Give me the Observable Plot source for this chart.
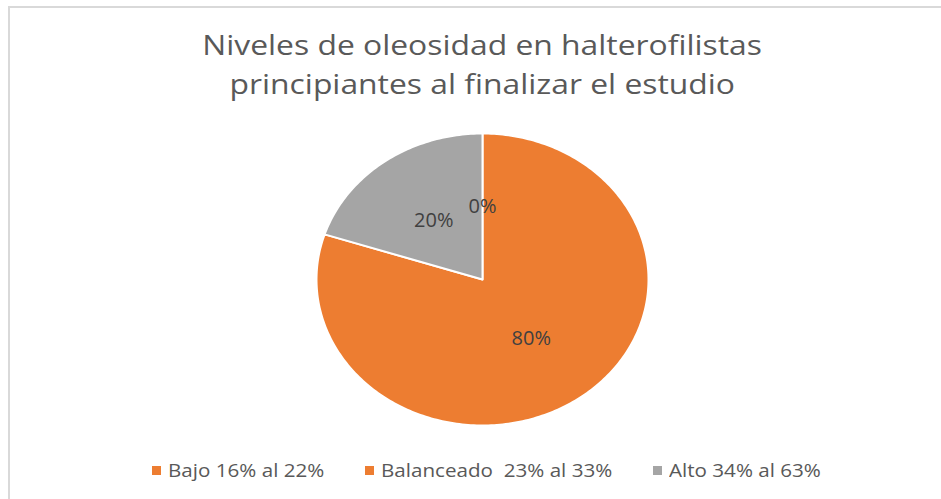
<!DOCTYPE html>
<html>
<head>
<meta charset="utf-8">
<script src="https://cdn.jsdelivr.net/npm/d3@7"></script>
<script src="https://cdn.jsdelivr.net/npm/@observablehq/plot@0.6"></script>
<style>
  html, body { margin: 0; padding: 0; background: #fff; }
  #wrap { position: relative; width: 941px; height: 499px; overflow: hidden; font-family: "Open Sans", Lato, sans-serif; }
  #bl { position: absolute; left: 8px; top: 6px; width: 2px; height: 493px; background: #d9d9d9; }
  #bt { position: absolute; left: 8px; top: 6px; width: 933px; height: 2px; background: #d9d9d9; }
  #title { position: absolute; top: 25px; left: 0; width: 964px; text-align: center; color: #595959; font-size: 28px; line-height: 39px; }
  #title span { display: inline-block; transform: scaleX(1.137); transform-origin: center; }
  #chart { position: absolute; top: 114px; left: 0; }
  #legend { position: absolute; top: 458px; left: 0; width: 941px; height: 26px; color: #595959; font-size: 18px; }
  .item { position: absolute; top: 0; display: flex; align-items: center; white-space: pre; }
  .sw { width: 9px; height: 9px; margin-right: 7px; }
  .item span { display: inline-block; transform: scaleX(1.145); transform-origin: left center; }
</style>
</head>
<body>
<div id="wrap">
  <div id="bl"></div><div id="bt"></div>
  <div id="title"><span>Niveles de oleosidad en halterofilistas</span><br><span>principiantes al finalizar el estudio</span></div>
  <div id="chart"></div>
  <div id="legend"></div>
</div>
<script>
const categories = ["Bajo 16% al 22%", "Balanceado  23% al 33%", "Alto 34% al 63%"];
const values = [0, 80, 20];
const labels = ["0%", "80%", "20%"];
const colors = ["#ED7D31", "#ED7D31", "#A5A5A5"];
const legendX = [152, 365, 653];

// build slices (clockwise from 12 o'clock)
const total = d3.sum(values);
const slices = [];
const labelRows = [];
let acc = 0;
categories.forEach((c, i) => {
  const a0 = acc / total * 2 * Math.PI;
  acc += values[i];
  const a1 = acc / total * 2 * Math.PI;
  const n = Math.max(2, Math.ceil((a1 - a0) / (Math.PI / 180)));
  slices.push({cat: c, x: 0, y: 0, i});
  for (let k = 0; k <= n; k++) {
    const a = a0 + (a1 - a0) * k / n;
    slices.push({cat: c, x: Math.sin(a), y: Math.cos(a), i});
  }
  slices.push({cat: c, x: 0, y: 0, i});
  const am = (a0 + a1) / 2;
  labelRows.push({label: labels[i], x: 0.5 * Math.sin(am), y: 0.5 * Math.cos(am)});
});

const plot = Plot.plot({
  width: 941,
  height: 330,
  margin: 0,
  x: {domain: [-1, 1], range: [316, 648], axis: null},
  y: {domain: [-1, 1], range: [311, 19], axis: null},
  marks: [
    Plot.line(slices, {x: "x", y: "y", z: "cat", fill: d => colors[d.i], stroke: "#fff", strokeWidth: 2, strokeLinejoin: "round", curve: "linear"}),
    Plot.text(labelRows, {x: "x", y: "y", text: "label", fill: "#404040", fontSize: 20, fontFamily: "'Open Sans', Lato, sans-serif"})
  ]
});
document.getElementById("chart").appendChild(plot);

const leg = document.getElementById("legend");
categories.forEach((c, i) => {
  const it = document.createElement("div");
  it.className = "item";
  it.style.left = legendX[i] + "px";
  const sw = document.createElement("div");
  sw.className = "sw";
  sw.style.background = colors[i];
  const t = document.createElement("span");
  t.textContent = c;
  it.appendChild(sw); it.appendChild(t);
  leg.appendChild(it);
});
</script>
</body>
</html>
